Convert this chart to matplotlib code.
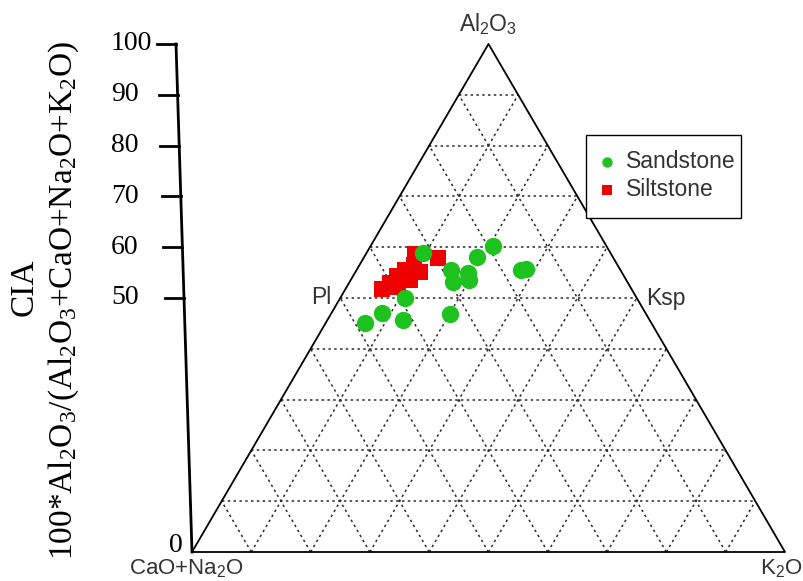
import matplotlib
matplotlib.use('Agg')
import matplotlib.pyplot as plt
from matplotlib.lines import Line2D
from matplotlib.patches import Rectangle

plt.rcParams['mathtext.fontset'] = 'custom'
plt.rcParams['mathtext.rm'] = 'Liberation Serif'
plt.rcParams['mathtext.it'] = 'Liberation Serif:italic'
plt.rcParams['mathtext.sf'] = 'Liberation Sans'

# 三角图组分 (%): Al2O3, CaO+Na2O, K2O
sand_al = [45.1, 47.0, 45.7, 50.0, 58.9, 46.9, 55.5, 53.1, 54.9, 53.5, 58.1, 60.2, 55.5, 55.7]
sand_k = [6.6, 8.5, 12.7, 10.9, 9.5, 20.1, 15.9, 17.4, 19.1, 19.9, 19.0, 20.6, 27.7, 28.5]
sand_cn = [48.3, 44.5, 41.6, 39.1, 31.6, 33.0, 28.6, 29.5, 26.0, 26.6, 22.9, 19.2, 16.8, 15.8]

silt_al = [51.8, 53.0, 54.3, 55.5, 53.5, 56.5, 58.7, 55.1, 57.9, 52.2]
silt_k = [6.2, 6.9, 7.4, 8.2, 10.0, 9.2, 8.3, 10.9, 12.5, 8.7]
silt_cn = [42.0, 40.1, 38.3, 36.3, 36.5, 34.3, 33.0, 34.0, 29.6, 39.1]

cia_ticks = [50, 60, 70, 80, 90, 100]

GREEN = '#1ec21e'
RED = '#ee0000'

# 图上像素位置 -> 三角坐标
X0, W, Y0, H = 192.0, 593.0, 552.0, 508.0


def px(x, y):
    return (x - X0) / W, (Y0 - y) / H


def fpx(x, y):
    return x / 804, 1 - y / 581


def tern(al, k, cn):
    s = [a + b + c for a, b, c in zip(al, k, cn)]
    ys = [a / t for a, t in zip(al, s)]
    xs = [b / t + yy / 2 for b, t, yy in zip(k, s, ys)]
    return xs, ys


fig = plt.figure(figsize=(8.04, 5.81), dpi=100)
ax = fig.add_axes([0, 0, 1, 1])
ax.set_xlim(px(0, 0)[0], px(804, 0)[0])
ax.set_ylim(px(0, 581)[1], px(0, 0)[1])
ax.axis('off')

# 网格(虚线)
dot = dict(color='#2a2a2a', lw=1.1, linestyle=(0, (1.6, 2.2)), zorder=1)
for i in range(1, 10):
    t = i / 10
    ax.plot([t / 2, 1 - t / 2], [t, t], **dot)
    ax.plot([t, (1 + t) / 2], [0, 1 - t], **dot)
    ax.plot([1 - t, (1 - t) / 2], [0, 1 - t], **dot)

# 三角形外框
ax.plot([0, 1, 0.5, 0], [0, 0, 1, 0], color='black', lw=1.3, zorder=2)

# CIA 轴
lean = px(176, 0)[0]
ax.plot([0, lean], [0, 1], color='black', lw=2.0, zorder=2)
tick_len = 19 / W
for v in cia_ticks:
    yy = v / 100
    xa = lean * yy
    ax.plot([xa - tick_len, xa], [yy, yy], color='black', lw=2.0)
    ax.text(px(111, 0)[0], yy, str(v), ha='left', va='center',
            family='Liberation Serif', fontsize=20)
ax.text(px(183, 0)[0], px(0, 546)[1], '0', ha='right', va='center',
        family='Liberation Serif', fontsize=20)

ax.text(*px(24, 287), 'CIA', rotation=90, ha='center', va='center',
        family='Liberation Serif', fontsize=24)
ax.text(*px(64, 300), r'100*Al$_2$O$_3$/(Al$_2$O$_3$+CaO+Na$_2$O+K$_2$O)',
        rotation=90, ha='center', va='center',
        family='Liberation Serif', fontsize=24)

# 端元与矿物标注
sans = dict(family='Liberation Sans', fontsize=16.5, color='#333333')
bottom = dict(sans, fontsize=16)
ax.text(0.5, px(0, 37)[1], r'Al$_\mathsf{2}$O$_\mathsf{3}$', ha='center', va='bottom', **sans)
ax.text(*px(186, 568), r'CaO+Na$_\mathsf{2}$O', ha='center', va='center', **bottom)
ax.text(*px(781, 568), r'K$_\mathsf{2}$O', ha='center', va='center', **bottom)
ax.text(0.25 - 9 / W, 0.5, 'Pl', ha='right', va='center', **sans)
ax.text(0.75 + 9 / W, 0.5, 'Ksp', ha='left', va='center', **sans)

# 样品点
sx, sy = tern(sand_al, sand_k, sand_cn)
lx, ly = tern(silt_al, silt_k, silt_cn)
ax.plot(lx, ly, 's', color=RED, markersize=12, markeredgewidth=0, zorder=3)
ax.plot(sx, sy, 'o', color=GREEN, markersize=12.5, markeredgewidth=0, zorder=4)

# 图例
x0, y0 = fpx(586, 218)
x1, y1 = fpx(741, 135)
fig.patches.append(Rectangle((x0, y0), x1 - x0, y1 - y0, transform=fig.transFigure,
                             facecolor='white', edgecolor='black', lw=1.0, zorder=5))
for lab, mk, col, yp in [('Sandstone', 'o', GREEN, 162), ('Siltstone', 's', RED, 190)]:
    fig.add_artist(Line2D([fpx(607, 0)[0]], [fpx(0, yp)[1]], marker=mk, color=col,
                          markersize=7.5, markeredgewidth=0, transform=fig.transFigure, zorder=6))
    fig.text(*fpx(626, yp), lab, ha='left', va='center', zorder=6, **sans)

fig.savefig('out.png', dpi=100)
